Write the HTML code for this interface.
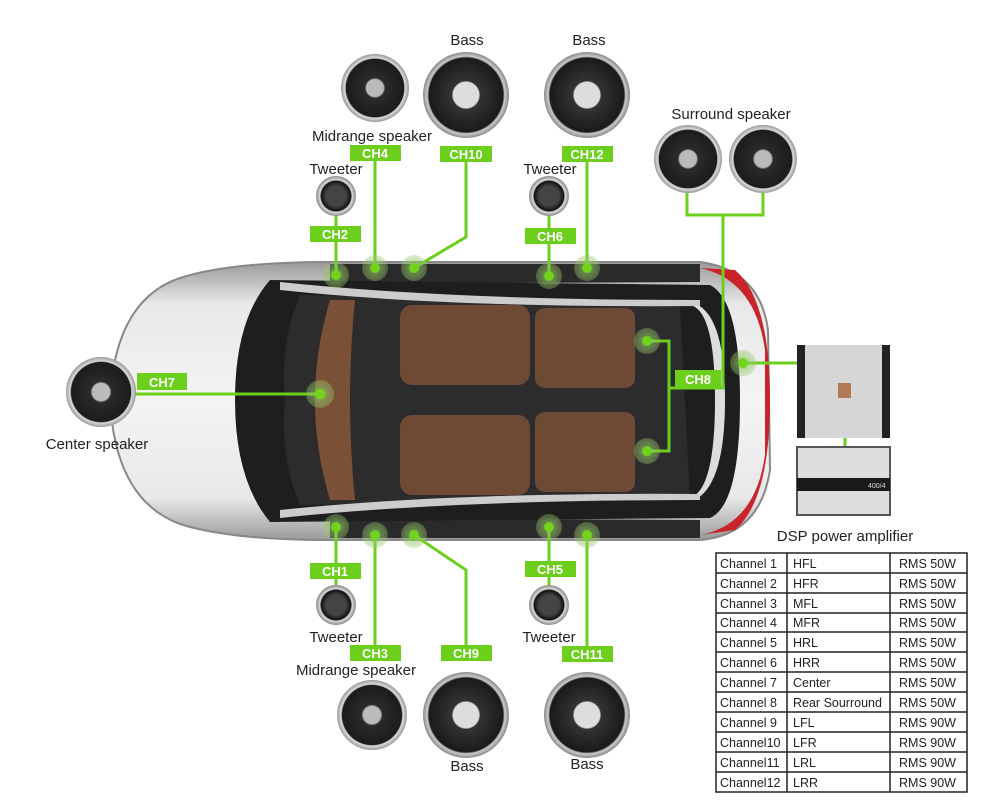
<!DOCTYPE html>
<html><head><meta charset="utf-8"><style>
html,body{margin:0;padding:0;background:#fff;}
svg{display:block;font-family:"Liberation Sans",sans-serif;}
.lab{font-size:15px;fill:#222;}
.ch{font-size:13px;fill:#fff;font-weight:bold;}
.g{stroke:#6ccf1c;stroke-width:3;fill:none;}
.tb{font-size:12.5px;fill:#222;}
</style></head><body>
<svg width="1000" height="809" viewBox="0 0 1000 809">
<defs>
<radialGradient id="dot"><stop offset="0.35" stop-color="#72d31e"/><stop offset="0.4" stop-color="#8fc860" stop-opacity=".6"/><stop offset="1" stop-color="#9ac770" stop-opacity=".35"/></radialGradient>
<radialGradient id="grill"><stop offset="0.25" stop-color="#bbb"/><stop offset="0.3" stop-color="#2a2a2a"/><stop offset="0.85" stop-color="#1c1c1c"/><stop offset="0.88" stop-color="#ddd"/><stop offset="1" stop-color="#999"/></radialGradient>
<radialGradient id="bass"><stop offset="0.3" stop-color="#ddd"/><stop offset="0.33" stop-color="#333"/><stop offset="0.86" stop-color="#1a1a1a"/><stop offset="0.9" stop-color="#ccc"/><stop offset="1" stop-color="#888"/></radialGradient>
<radialGradient id="tw"><stop offset="0.5" stop-color="#444"/><stop offset="0.75" stop-color="#111"/><stop offset="0.8" stop-color="#ddd"/><stop offset="1" stop-color="#888"/></radialGradient>
<linearGradient id="body" x1="0" y1="0" x2="0" y2="1"><stop offset="0" stop-color="#9a9a9a"/><stop offset=".15" stop-color="#e8e8e8"/><stop offset=".5" stop-color="#f4f4f4"/><stop offset=".85" stop-color="#e8e8e8"/><stop offset="1" stop-color="#9a9a9a"/></linearGradient>
</defs>
<!-- car body -->
<path d="M180,278 Q230,262 330,262 L700,262 Q760,270 768,330 L770,470 Q760,535 700,540 L330,540 Q230,540 180,524 Q115,500 110,400 Q115,300 180,278 Z" fill="url(#body)" stroke="#888" stroke-width="2"/>
<path d="M330,264 L700,264 L700,282 L330,284Z" fill="#2a2a2a"/>
<path d="M330,538 L700,538 L700,520 L330,518Z" fill="#2a2a2a"/>
<path d="M700,268 Q755,280 765,350 L765,455 Q755,525 700,535 L735,530 Q770,500 770,400 Q770,300 735,270Z" fill="#c8242a"/>
<path d="M270,280 L710,285 Q740,300 740,400 Q740,505 710,518 L270,522 Q235,480 235,400 Q235,320 270,280Z" fill="#1e1e1e"/>
<path d="M300,295 L680,305 L690,500 L300,505 Q280,460 285,400 Q280,340 300,295Z" fill="#2c2c2c"/>
<path d="M330,300 Q300,400 330,500 L355,500 Q345,400 355,300Z" fill="#7a5036"/>
<rect x="400" y="305" width="130" height="80" rx="12" fill="#6e4a34"/>
<rect x="400" y="415" width="130" height="80" rx="12" fill="#6e4a34"/>
<rect x="535" y="308" width="100" height="80" rx="10" fill="#6e4a34"/>
<rect x="535" y="412" width="100" height="80" rx="10" fill="#6e4a34"/>
<path d="M690,305 Q715,310 715,400 Q715,490 690,498 L698,498 Q725,480 725,400 Q725,320 698,305Z" fill="#ddd"/>
<path d="M280,282 Q450,300 700,300 L700,306 Q450,308 280,290Z" fill="#ccc"/>
<path d="M280,518 Q450,500 700,500 L700,494 Q450,492 280,510Z" fill="#ccc"/>
<!-- connectors -->
<g class="g">
<path d="M375,161 V268"/><path d="M466,162 V237 L414,268"/><path d="M336,214 V275"/><path d="M549,214 V276"/><path d="M587,162 V268"/>
<path d="M135,394 H320"/>
<path d="M647,341 H669 V451 H647"/><path d="M669,388 H723 V215"/><path d="M687,193 V215 H763 V193"/>
<path d="M743,363 H797"/><path d="M845,438 V446"/>
<path d="M336,527 V590"/><path d="M375,535 V645"/><path d="M414,535 L466,570 V645"/><path d="M549,527 V590"/><path d="M587,535 V648"/>
</g>
<g fill="url(#dot)">
<circle cx="336" cy="275" r="13"/><circle cx="375" cy="268" r="13"/><circle cx="414" cy="268" r="13"/><circle cx="549" cy="276" r="13"/><circle cx="587" cy="268" r="13"/>
<circle cx="336" cy="527" r="13"/><circle cx="375" cy="535" r="13"/><circle cx="414" cy="535" r="13"/><circle cx="549" cy="527" r="13"/><circle cx="587" cy="535" r="13"/>
<circle cx="320" cy="394" r="14"/><circle cx="647" cy="341" r="13"/><circle cx="647" cy="451" r="13"/><circle cx="743" cy="363" r="13"/>
</g>
<!-- speakers -->
<circle cx="375" cy="88" r="34" fill="url(#grill)"/>
<circle cx="466" cy="95" r="43" fill="url(#bass)"/>
<circle cx="587" cy="95" r="43" fill="url(#bass)"/>
<circle cx="336" cy="196" r="20" fill="url(#tw)"/>
<circle cx="549" cy="196" r="20" fill="url(#tw)"/>
<circle cx="688" cy="159" r="34" fill="url(#grill)"/>
<circle cx="763" cy="159" r="34" fill="url(#grill)"/>
<circle cx="101" cy="392" r="35" fill="url(#grill)"/>
<circle cx="336" cy="605" r="20" fill="url(#tw)"/>
<circle cx="549" cy="605" r="20" fill="url(#tw)"/>
<circle cx="372" cy="715" r="35" fill="url(#grill)"/>
<circle cx="466" cy="715" r="43" fill="url(#bass)"/>
<circle cx="587" cy="715" r="43" fill="url(#bass)"/>
<!-- amps -->
<rect x="797" y="345" width="93" height="93" rx="4" fill="#d6d6d6"/>
<rect x="797" y="345" width="8" height="93" fill="#222"/><rect x="882" y="345" width="8" height="93" fill="#222"/>
<rect x="838" y="383" width="13" height="15" fill="#b07a55"/>
<rect x="797" y="447" width="93" height="68" fill="#ddd" stroke="#555" stroke-width="2"/>
<rect x="797" y="478" width="93" height="13" fill="#1a1a1a"/>
<text x="868" y="488" font-size="7" fill="#ddd">400/4</text>
<!-- labels -->
<g class="lab" text-anchor="middle">
<text x="467" y="45">Bass</text><text x="589" y="45">Bass</text>
<text x="372" y="141">Midrange speaker</text>
<text x="336" y="174">Tweeter</text><text x="550" y="174">Tweeter</text>
<text x="731" y="119">Surround speaker</text>
<text x="97" y="449">Center speaker</text>
<text x="845" y="541">DSP power amplifier</text>
<text x="336" y="642">Tweeter</text><text x="549" y="642">Tweeter</text>
<text x="356" y="675">Midrange speaker</text>
<text x="467" y="771">Bass</text><text x="587" y="769">Bass</text>
</g>
<g fill="#6ccf1c">
<rect x="350" y="145" width="51" height="16"/><rect x="440" y="146" width="52" height="16"/><rect x="562" y="146" width="51" height="16"/>
<rect x="310" y="226" width="51" height="16"/><rect x="525" y="228" width="51" height="16"/>
<rect x="137" y="373" width="50" height="17"/><rect x="675" y="370" width="46" height="17"/>
<rect x="310" y="563" width="51" height="16"/><rect x="350" y="645" width="51" height="16"/><rect x="441" y="645" width="51" height="16"/>
<rect x="525" y="561" width="51" height="16"/><rect x="562" y="646" width="51" height="16"/>
</g>
<g class="ch" text-anchor="middle">
<text x="375" y="158">CH4</text><text x="466" y="159">CH10</text><text x="587" y="159">CH12</text>
<text x="335" y="239">CH2</text><text x="550" y="241">CH6</text>
<text x="162" y="387">CH7</text><text x="698" y="384">CH8</text>
<text x="335" y="576">CH1</text><text x="375" y="658">CH3</text><text x="466" y="658">CH9</text>
<text x="550" y="574">CH5</text><text x="587" y="659">CH11</text>
</g>
<!-- table -->
<g stroke="#222" stroke-width="1.5" fill="none">
<rect x="716" y="553" width="251" height="239"/>
<line x1="787" y1="553" x2="787" y2="792"/><line x1="890" y1="553" x2="890" y2="792"/>
<path d="M716,573H967M716,593H967M716,613H967M716,632H967M716,652H967M716,672H967M716,692H967M716,712H967M716,732H967M716,752H967M716,772H967"/>
</g>
<g class="tb">
<text x="720" y="568">Channel 1</text><text x="793" y="568">HFL</text><text x="899" y="568">RMS 50W</text>
<text x="720" y="588">Channel 2</text><text x="793" y="588">HFR</text><text x="899" y="588">RMS 50W</text>
<text x="720" y="608">Channel 3</text><text x="793" y="608">MFL</text><text x="899" y="608">RMS 50W</text>
<text x="720" y="627">Channel 4</text><text x="793" y="627">MFR</text><text x="899" y="627">RMS 50W</text>
<text x="720" y="647">Channel 5</text><text x="793" y="647">HRL</text><text x="899" y="647">RMS 50W</text>
<text x="720" y="667">Channel 6</text><text x="793" y="667">HRR</text><text x="899" y="667">RMS 50W</text>
<text x="720" y="687">Channel 7</text><text x="793" y="687">Center</text><text x="899" y="687">RMS 50W</text>
<text x="720" y="707">Channel 8</text><text x="793" y="707">Rear Sourround</text><text x="899" y="707">RMS 50W</text>
<text x="720" y="727">Channel 9</text><text x="793" y="727">LFL</text><text x="899" y="727">RMS 90W</text>
<text x="720" y="747">Channel10</text><text x="793" y="747">LFR</text><text x="899" y="747">RMS 90W</text>
<text x="720" y="767">Channel11</text><text x="793" y="767">LRL</text><text x="899" y="767">RMS 90W</text>
<text x="720" y="787">Channel12</text><text x="793" y="787">LRR</text><text x="899" y="787">RMS 90W</text>
</g>
</svg>
</body></html>
